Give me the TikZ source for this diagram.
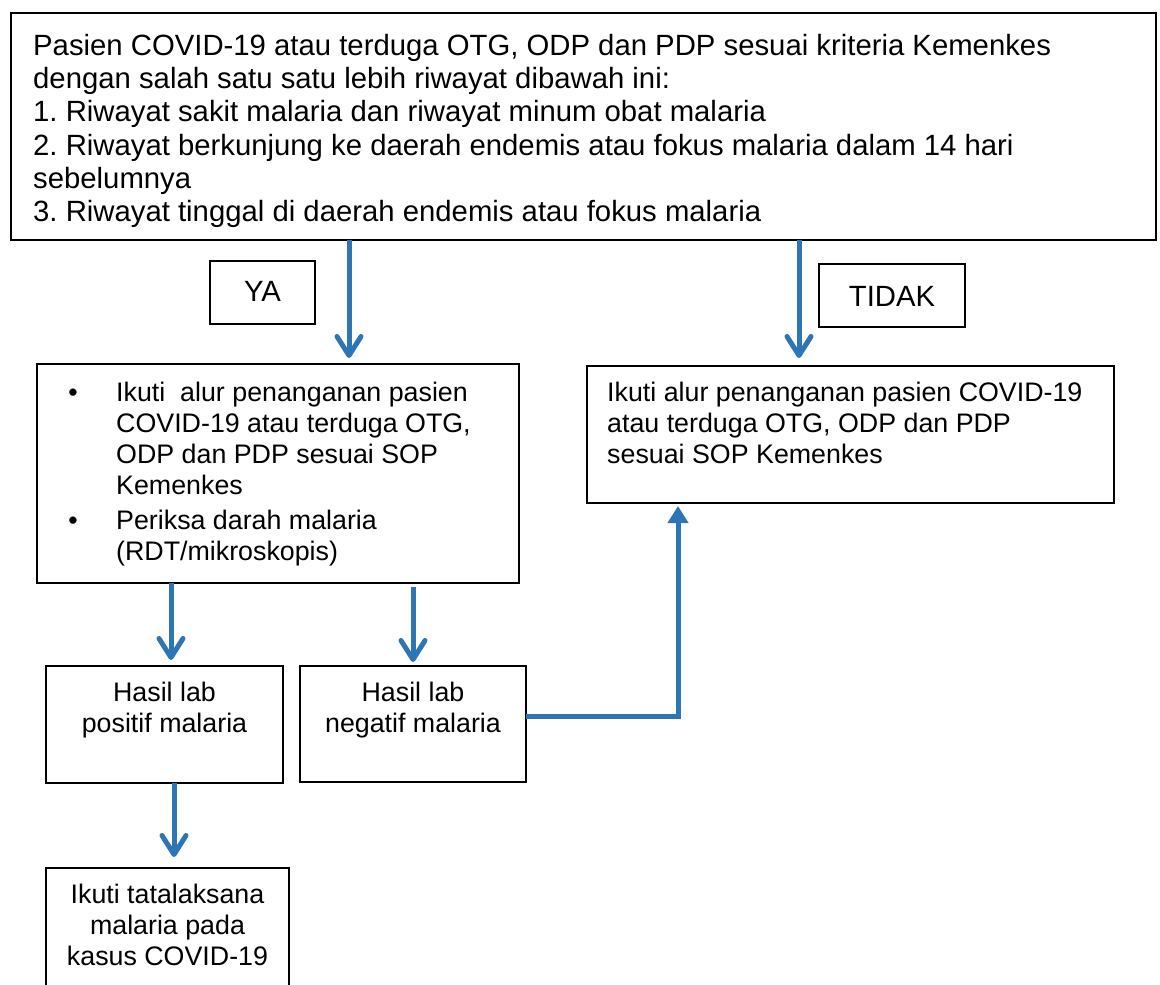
\documentclass[tikz,border=0pt]{standalone}
\usepackage{fontspec}
\setmainfont{Liberation Sans}
\usetikzlibrary{arrows.meta}
\definecolor{arrblue}{RGB}{46,117,182}
\frenchspacing
\begin{document}
\begin{tikzpicture}[x=1pt,y=-1pt,
  box/.style={draw=black, line width=1.3pt, inner sep=0pt, outer sep=0pt},
  bigtxt/.style={font=\fontsize{29.3}{33.2}\selectfont, inner sep=0pt},
  midtxt/.style={font=\fontsize{26.8}{31}\selectfont, inner sep=0pt},
  barb/.style={draw=arrblue, line width=5pt, -{Straight Barb[length=19pt,width=24pt,round]}},
  tri/.style={draw=arrblue, line width=5pt, -{Triangle[length=17pt,width=20pt]}}]
\useasboundingbox (0,0) rectangle (1160,985);
% boxes
\node[box, minimum width=1145pt, minimum height=227pt] (top) at (583.5,126.5) {};
\node[box, minimum width=105pt, minimum height=63pt] (ya) at (262.5,292.5) {};
\node[box, minimum width=146pt, minimum height=63pt] (tidak) at (892,295.5) {};
\node[box, minimum width=482pt, minimum height=219pt] (b1) at (278,473.5) {};
\node[box, minimum width=527pt, minimum height=137pt] (b2) at (850.5,434.5) {};
\node[box, minimum width=237pt, minimum height=117pt] (pos) at (164.5,724.5) {};
\node[box, minimum width=226pt, minimum height=116pt] (neg) at (413,724) {};
\node[box, minimum width=243pt, minimum height=142pt] (fin) at (167.5,939) {};
% texts (base anchor = baseline of the last line)
\node[bigtxt, anchor=base west, align=left] (toptext) at (33,221.5)
 {Pasien COVID-19 atau terduga OTG, ODP dan PDP sesuai kriteria Kemenkes\\
  dengan salah satu satu lebih riwayat dibawah ini:\\
  1. Riwayat sakit malaria dan riwayat minum obat malaria\\
  2. Riwayat berkunjung ke daerah endemis atau fokus malaria dalam 14 hari\\
  sebelumnya\\
  3. Riwayat tinggal di daerah endemis atau fokus malaria};
\node[bigtxt, anchor=base] (yatext) at (262.5,301) {YA};
\node[bigtxt, anchor=base] (tidaktext) at (892,306) {TIDAK};
\node[midtxt, anchor=base] (bul1) at (73,401.5) {•};
\node[midtxt, anchor=base] (bul2) at (73,529) {•};
\node[midtxt, anchor=base west, align=left] (b1t1) at (116,494.5)
 {Ikuti\ \ alur penanganan pasien\\ COVID-19 atau terduga OTG,\\ ODP dan PDP sesuai SOP\\ Kemenkes};
\node[midtxt, anchor=base west, align=left] (b1t2) at (116,560)
 {Periksa darah malaria\\ (RDT/mikroskopis)};
\node[midtxt, anchor=base west, align=left] (b2t) at (607,463.5)
 {Ikuti alur penanganan pasien COVID-19\\ atau terduga OTG, ODP dan PDP\\ sesuai SOP Kemenkes};
\node[midtxt, anchor=base, align=center] (post) at (164.5,732.5)
 {Hasil lab\\ positif malaria};
\node[midtxt, anchor=base, align=center] (negt) at (413,732.5)
 {Hasil lab\\ negatif malaria};
\node[midtxt, anchor=base, align=center] (fint) at (167.5,965)
 {Ikuti tatalaksana\\ malaria pada\\ kasus COVID-19};
% connector x positions
\coordinate (xa) at (349,0);
\coordinate (xb) at (799,0);
\coordinate (xc) at (171,0);
\coordinate (xd) at (413,0);
\coordinate (xe) at (174,0);
\coordinate (xf) at (678,0);
\coordinate (yneg) at (0,716);
% connectors
\draw[barb, shorten >=6pt] (top.south -| xa) -- (b1.north -| xa);
\draw[barb, shorten >=8pt] (top.south -| xb) -- (b2.north -| xb);
\draw[barb, shorten >=6pt] (b1.south -| xc) -- (pos.north -| xc);
\draw[barb, shorten >=4pt] ([yshift=-4pt]b1.south -| xd) -- (neg.north -| xd);
\draw[barb, shorten >=11pt] (pos.south -| xe) -- (fin.north -| xe);
\draw[tri, shorten >=3pt] (neg.east |- yneg) -- (xf |- yneg) -- (b2.south -| xf);
\end{tikzpicture}
\end{document}
